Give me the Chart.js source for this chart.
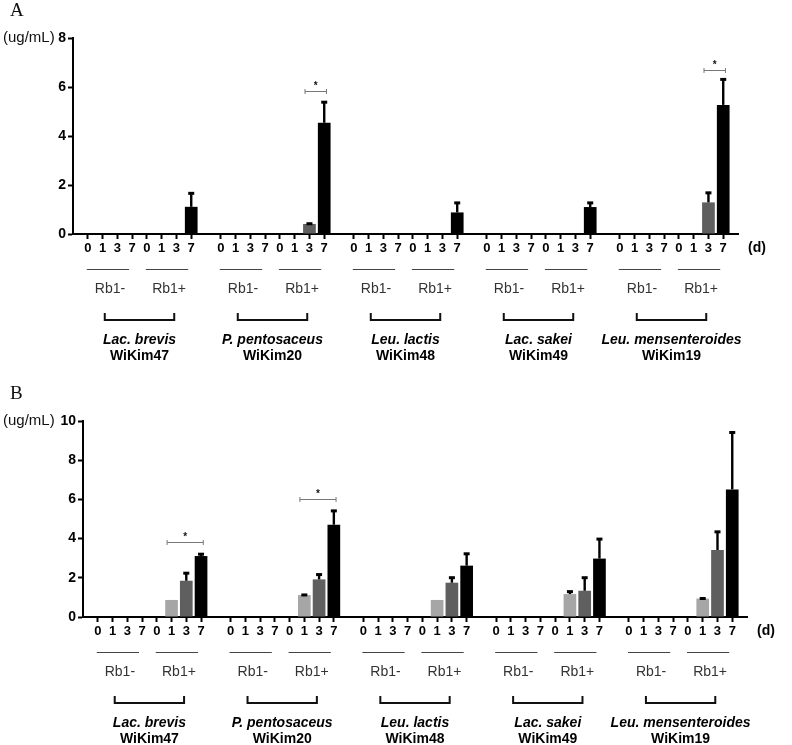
<!DOCTYPE html>
<html>
<head>
<meta charset="utf-8">
<script src="https://cdn.jsdelivr.net/npm/chart.js@4.4.1/dist/chart.umd.min.js"></script>
<style>
  body { margin: 0; background: #fff; }
  canvas { position: absolute; left: 0; }
</style>
</head>
<body>
<canvas id="chartA" width="792" height="370" style="top:0"></canvas>
<canvas id="chartB" width="792" height="375" style="top:370px"></canvas>
<script>
/* data ------------------------------------------------------------ */
const strains   = ['Lac. brevis', 'P. pentosaceus', 'Leu. lactis', 'Lac. sakei', 'Leu. mensenteroides'];
const strainIds = ['WiKim47', 'WiKim20', 'WiKim48', 'WiKim49', 'WiKim19'];
const groups    = ['Rb1-', 'Rb1+'];
const days      = ['0', '1', '3', '7'];

// panel A – Rb1- / Rb1+ means and SD per strain, days 0 1 3 7
const minusA  = [[0, 0, 0, 0], [0, 0, 0, 0], [0, 0, 0, 0], [0, 0, 0, 0], [0, 0, 0, 0]];
const plusA   = [[0, 0, 0, 1.11], [0, 0, 0.41, 4.54], [0, 0, 0, 0.88], [0, 0, 0, 1.10], [0, 0, 1.29, 5.27]];
const plusErrA = [[0, 0, 0, 0.57], [0, 0, 0.03, 0.86], [0, 0, 0, 0.41], [0, 0, 0, 0.19], [0, 0, 0.41, 1.06]];
const sigA    = [{ strain: 1, from: 2, to: 3, y: 5.85 }, { strain: 4, from: 2, to: 3, y: 6.7 }];

// panel B
const minusB  = [[0, 0, 0, 0], [0, 0, 0, 0], [0, 0, 0, 0], [0, 0, 0, 0], [0, 0, 0, 0]];
const plusB   = [[0, 0.87, 1.85, 3.11], [0, 1.12, 1.92, 4.71], [0, 0.87, 1.75, 2.62], [0, 1.17, 1.34, 2.98], [0, 0.94, 3.42, 6.51]];
const plusErrB = [[0, 0, 0.41, 0.12], [0, 0.03, 0.27, 0.73], [0, 0, 0.28, 0.63], [0, 0.15, 0.69, 1.02], [0, 0.03, 0.95, 2.93]];
const sigB    = [{ strain: 0, from: 1, to: 3, y: 3.83 }, { strain: 1, from: 1, to: 3, y: 6.0 }];

const dayColors = ['#ffffff', '#a6a6a6', '#5f5f5f', '#000000'];
const FONT = "'Liberation Sans', Arial, sans-serif";

/* helpers --------------------------------------------------------- */
// one blank slot at each end and between strains
const labels = [''];
const dayIdx = [null];
strains.forEach(() => {
  groups.forEach(() => days.forEach((d, di) => { labels.push(d); dayIdx.push(di); }));
  labels.push(''); dayIdx.push(null);
});
const slot = (s, g, d) => 1 + s * 9 + g * 4 + d;

function series(minus, plus) {
  const out = [null];
  strains.forEach((_, si) => out.push(...minus[si], ...plus[si], null));
  return out;
}

function makePanel(p) {
  const values = series(p.minus, p.plus);
  const errors = series(p.minus, p.err);

  const decor = {
    id: 'decor' + p.letter,
    afterDatasetsDraw(chart) {
      const { ctx, scales: { x, y } } = chart;
      const meta = chart.getDatasetMeta(0);
      const step = x.getPixelForValue(1) - x.getPixelForValue(0);
      ctx.save();
      // error bars (upper only)
      ctx.fillStyle = '#000';
      meta.data.forEach((bar, i) => {
        const e = errors[i];
        if (!e) return;
        const top = y.getPixelForValue(values[i] + e);
        ctx.fillRect(bar.x - 1.2, top, 2.4, bar.y - top);
        ctx.fillRect(bar.x - 3, top - 1, 6, 3);
      });
      // significance brackets
      ctx.strokeStyle = '#777';
      ctx.lineWidth = 1;
      p.sig.forEach(b => {
        const x1 = x.getPixelForValue(slot(b.strain, 1, b.from)) - 0.3 * step;
        const x2 = x.getPixelForValue(slot(b.strain, 1, b.to)) + 0.15 * step;
        const yy = Math.round(y.getPixelForValue(b.y)) + 0.5;
        ctx.beginPath();
        ctx.moveTo(x1, yy); ctx.lineTo(x2, yy);
        ctx.moveTo(x1, yy - 2.5); ctx.lineTo(x1, yy + 2.5);
        ctx.moveTo(x2, yy - 2.5); ctx.lineTo(x2, yy + 2.5);
        ctx.stroke();
        ctx.fillStyle = '#111';
        ctx.font = 'bold 10px ' + FONT;
        ctx.textAlign = 'center';
        ctx.textBaseline = 'middle';
        ctx.fillText('*', (x1 + x2) / 2, yy - 5);
      });
      ctx.restore();
    },
    afterDraw(chart) {
      const { ctx, scales: { x }, chartArea } = chart;
      const step = x.getPixelForValue(1) - x.getPixelForValue(0);
      const base = chartArea.bottom;
      ctx.save();
      ctx.textAlign = 'center';
      ctx.textBaseline = 'middle';
      strains.forEach((name, si) => {
        groups.forEach((g, gi) => {
          const a = x.getPixelForValue(slot(si, gi, 0));
          const b = x.getPixelForValue(slot(si, gi, 3));
          ctx.strokeStyle = '#444';
          ctx.lineWidth = 1;
          ctx.beginPath();
          ctx.moveTo(a - 1, base + 35.5); ctx.lineTo(b - 3, base + 35.5);
          ctx.stroke();
          ctx.fillStyle = '#333';
          ctx.font = '14px ' + FONT;
          ctx.fillText(g, (a + b) / 2, base + 55);
        });
        const c = (x.getPixelForValue(slot(si, 0, 0)) + x.getPixelForValue(slot(si, 1, 3))) / 2;
        const hw = 2.35 * step;
        ctx.strokeStyle = '#111';
        ctx.lineWidth = 2;
        ctx.beginPath();
        ctx.moveTo(c - hw, base + 79); ctx.lineTo(c - hw, base + 86);
        ctx.lineTo(c + hw, base + 86); ctx.lineTo(c + hw, base + 79);
        ctx.stroke();
        ctx.fillStyle = '#000';
        ctx.font = 'italic bold 14px ' + FONT;
        ctx.fillText(name, c, base + 106);
        ctx.font = 'bold 14px ' + FONT;
        ctx.fillText(strainIds[si], c, base + 122);
      });
      // axis captions and panel letter
      ctx.font = 'bold 14px ' + FONT;
      ctx.fillText('(d)', chartArea.right + 19, base + 14);
      ctx.textAlign = 'left';
      ctx.font = '15px ' + FONT;
      ctx.fillStyle = '#111';
      ctx.fillText('(ug/mL)', 3, chartArea.top);
      ctx.font = "19px 'Liberation Serif', 'Times New Roman', serif";
      ctx.fillText(p.letter, 10, p.letterY);
      ctx.restore();
    }
  };

  return new Chart(document.getElementById(p.id), {
    type: 'bar',
    data: {
      labels,
      datasets: [{
        data: values,
        backgroundColor: dayIdx.map(d => d === null ? '#fff' : dayColors[d]),
        borderWidth: 0,
        barPercentage: 0.86,
        categoryPercentage: 1
      }]
    },
    options: {
      responsive: false,
      animation: false,
      devicePixelRatio: 1,
      layout: { padding: { left: 0, top: p.top, right: 792 - p.right, bottom: 0 } },
      plugins: { legend: { display: false }, tooltip: { enabled: false } },
      scales: {
        x: {
          offset: false,
          grid: {
            offset: false,
            drawOnChartArea: false,
            tickLength: 5,
            tickWidth: 2,
            tickColor: c => labels[c.index] === '' ? 'rgba(0,0,0,0)' : '#000'
          },
          border: { color: '#000', width: 2 },
          ticks: {
            autoSkip: false, maxRotation: 0, padding: 2,
            color: '#000', font: { family: FONT, size: 13, weight: 'bold' }
          },
          afterFit: s => { s.height = p.height - p.bottom; s.paddingLeft = 0; s.paddingRight = 0; }
        },
        y: {
          min: 0, max: p.yMax,
          grid: { drawOnChartArea: false, tickLength: 5, tickWidth: 2, tickColor: '#000' },
          border: { color: '#000', width: 2 },
          ticks: {
            stepSize: 2, padding: 2,
            color: '#000', font: { family: FONT, size: 14, weight: 'bold' }
          },
          afterFit: s => { s.width = p.left; }
        }
      }
    },
    plugins: [decor]
  });
}

makePanel({ id: 'chartA', letter: 'A', letterY: 11, yMax: 8, left: 73, right: 738, top: 38, bottom: 234, height: 370,
            minus: minusA, plus: plusA, err: plusErrA, sig: sigA });
makePanel({ id: 'chartB', letter: 'B', letterY: 24, yMax: 10, left: 83, right: 747, top: 51, bottom: 247, height: 375,
            minus: minusB, plus: plusB, err: plusErrB, sig: sigB });
</script>
</body>
</html>
